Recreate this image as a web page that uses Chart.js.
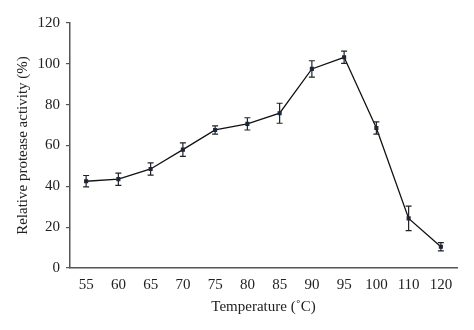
<!DOCTYPE html>
<html>
<head>
<meta charset="utf-8">
<script src="https://cdn.jsdelivr.net/npm/chart.js@4/dist/chart.umd.min.js"></script>
<style>
html,body{margin:0;padding:0;background:#fff;}
#wrap{width:474px;height:330px;position:relative;}
</style>
</head>
<body>
<div id="wrap"><canvas id="c" width="474" height="330"></canvas></div>
<script>
const temperatures = ['55','60','65','70','75','80','85','90','95','100','110','120'];
const activity = [42.5, 43.5, 48.5, 58, 67.6, 70.6, 75.8, 97.5, 103.2, 68.6, 24.3, 10.4];
const errors = [2.8, 3, 3, 3.3, 2, 3, 4.9, 4, 3, 3, 6, 2];
const yTicks = [0, 20, 40, 60, 80, 100, 120];

const FONT = "'Liberation Serif', 'DejaVu Serif', serif";
const INK = '#222';

const errorBars = {
  id: 'errorBars',
  afterDatasetsDraw(chart) {
    const ctx = chart.ctx;
    const meta = chart.getDatasetMeta(0);
    const ys = chart.scales.y;
    ctx.save();
    ctx.strokeStyle = INK;
    ctx.lineWidth = 1.2;
    meta.data.forEach((pt, i) => {
      const x = pt.x;
      const top = ys.getPixelForValue(activity[i] + errors[i]);
      const bot = ys.getPixelForValue(activity[i] - errors[i]);
      ctx.beginPath();
      ctx.moveTo(x, top); ctx.lineTo(x, bot);
      ctx.moveTo(x - 3, top); ctx.lineTo(x + 3, top);
      ctx.moveTo(x - 3, bot); ctx.lineTo(x + 3, bot);
      ctx.stroke();
    });
    ctx.restore();
  }
};

new Chart(document.getElementById('c'), {
  type: 'line',
  data: {
    labels: temperatures,
    datasets: [{
      data: activity,
      borderColor: '#111',
      borderWidth: 1.3,
      pointStyle: 'rect',
      pointRadius: 2,
      pointBackgroundColor: '#1c2a4a',
      pointBorderColor: '#1c2a4a',
      tension: 0,
      fill: false
    }]
  },
  options: {
    responsive: false,
    animation: false,
    layout: { padding: { top: 23, right: 17, left: 14, bottom: 14 } },
    plugins: { legend: { display: false }, tooltip: { enabled: false } },
    scales: {
      x: {
        type: 'category',
        offset: true,
        grid: { display: false },
        border: { display: true, color: '#555', width: 1.5 },
        ticks: { color: INK, font: { family: FONT, size: 15 }, padding: 0, maxRotation: 0, autoSkip: false },
        title: { display: true, text: 'Temperature (\u02DAC)', color: INK, font: { family: FONT, size: 15 }, padding: 0 },
        afterFit(s) { s.height = 48; }
      },
      y: {
        min: 0, max: 120,
        afterBuildTicks(s) { s.ticks = yTicks.map(v => ({ value: v })); },
        grid: { display: true, drawOnChartArea: false, drawTicks: true, tickLength: 4, color: '#555', lineWidth: 1.2 },
        border: { display: true, color: '#555', width: 1.5 },
        ticks: { color: INK, font: { family: FONT, size: 15 }, padding: 6 },
        title: { display: true, text: 'Relative protease activity (%)', color: INK, font: { family: FONT, size: 15 }, padding: 0 },
        afterFit(s) { s.width = 56; }
      }
    }
  },
  plugins: [errorBars]
});
</script>
</body>
</html>
